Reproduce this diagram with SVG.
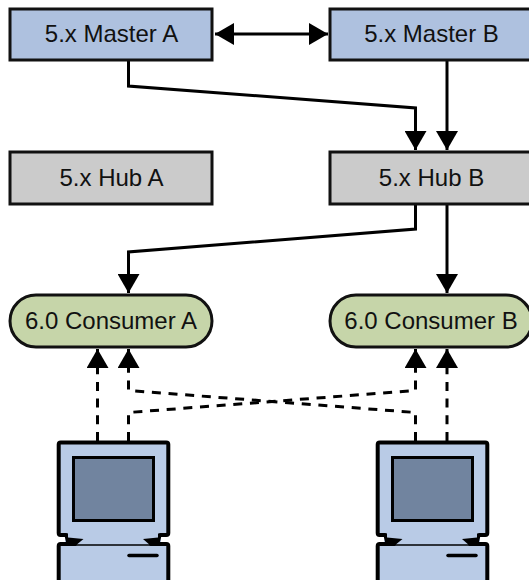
<svg xmlns="http://www.w3.org/2000/svg" xmlns:xlink="http://www.w3.org/1999/xlink" width="529" height="580" viewBox="0 0 529 580">
<style>
text{font-family:"Liberation Sans",Arial,sans-serif;font-size:24px;fill:#111;text-anchor:middle}
.box{stroke:#111;stroke-width:3}
.master{fill:#aec1df}
.hub{fill:#cbcbcb}
.consumer{fill:#c6d5a9}
.line{fill:none;stroke:#000;stroke-width:3}
.dash{stroke-dasharray:9 7.700}
.fill{fill:#b9cbe6}
.edge{fill:none;stroke:#000;stroke-width:4;stroke-linejoin:round;stroke-linecap:round}
.screen{fill:#71849f;stroke:#000;stroke-width:3}
</style>
<defs>
<marker id="head" markerUnits="userSpaceOnUse" markerWidth="22" markerHeight="22" viewBox="0 0 22 22" refX="19" refY="11" orient="auto-start-reverse"><path d="M0,0L19,11L0,22Z" fill="#000"/></marker>
<g id="pc">
<path class="fill" d="M59,442H167L168,534H161V544H168V580H58V544H65V534H58Z"/>
<path class="edge" d="M66,535H60.500Q58.700,535 58.700,533V444.500Q58.700,442.500 60.700,442.500H166.300Q168.300,442.500 168.300,444.500V533Q168.300,535 166.300,535H160.500"/>
<rect class="screen" x="73.500" y="457.500" width="80" height="63"/>
<path d="M64,533.500H68V537.500L83.500,539L75,546H67Z M162,533.500H158V537.500L143,539L151,546H159Z" fill="#000"/>
<path class="edge" d="M75,544H60.700Q58.700,544 58.700,546V582 M151,544H166.300Q168.300,544 168.300,546V582"/>
<path d="M75,545H151" fill="none" stroke="#000" stroke-width="1.500"/>
<path d="M129,555.500H157" fill="none" stroke="#000" stroke-width="3.500" stroke-linecap="round"/>
</g>
</defs>
<g id="connectors">
<path class="line" d="M215,34H328" marker-start="url(#head)" marker-end="url(#head)"/>
<path class="line" d="M128.500,60V86L415.500,108V150" marker-end="url(#head)"/>
<path class="line" d="M447,60V150" marker-end="url(#head)"/>
<path class="line" d="M415.500,204V229L128.500,252V293" marker-end="url(#head)"/>
<path class="line" d="M447,204V293" marker-end="url(#head)"/>
<path class="line dash" d="M97.500,441V349" marker-end="url(#head)"/>
<path class="line dash" d="M128.500,441V412.500L415.500,390.500V349" marker-end="url(#head)"/>
<path class="line dash" d="M415.500,441V412.500L128.500,390.500V349" marker-end="url(#head)"/>
<path class="line dash" d="M447,441V349" marker-end="url(#head)"/>
</g>
<g id="master-a"><rect class="box master" x="10" y="9" width="202" height="51"/><text x="111.500" y="42">5.x Master A</text></g>
<g id="master-b"><rect class="box master" x="330" y="9" width="202" height="51"/><text x="431.500" y="42">5.x Master B</text></g>
<g id="hub-a"><rect class="box hub" x="10" y="152" width="202" height="52"/><text x="111.500" y="186">5.x Hub A</text></g>
<g id="hub-b"><rect class="box hub" x="330" y="152" width="202" height="52"/><text x="431.500" y="186">5.x Hub B</text></g>
<g id="consumer-a"><rect class="box consumer" x="10" y="295" width="202" height="52" rx="26"/><text x="111" y="329">6.0 Consumer A</text></g>
<g id="consumer-b"><rect class="box consumer" x="330" y="295" width="202" height="52" rx="26"/><text x="431" y="329">6.0 Consumer B</text></g>
<g id="client-a"><use xlink:href="#pc" href="#pc"/></g>
<g id="client-b"><use xlink:href="#pc" href="#pc" x="319"/></g>
</svg>
